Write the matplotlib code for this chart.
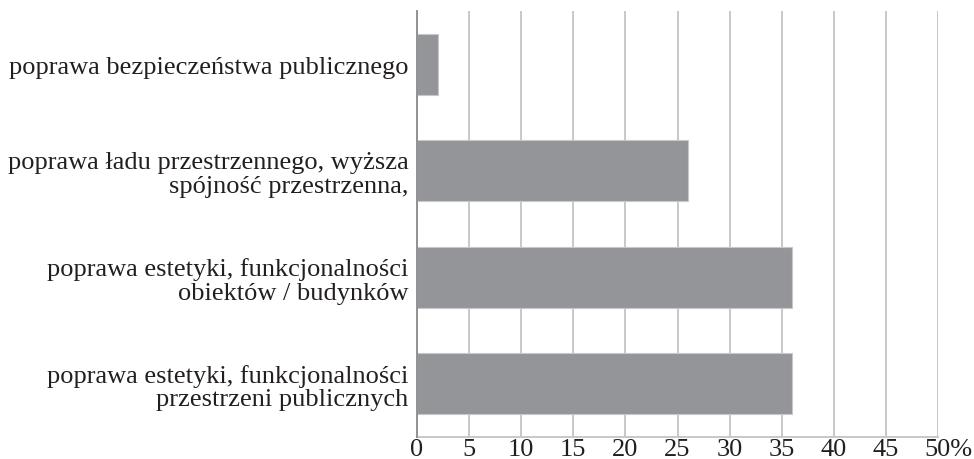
import matplotlib
matplotlib.use("Agg")
import matplotlib.pyplot as plt
from matplotlib.transforms import ScaledTranslation

categories = [
    "poprawa bezpieczeństwa publicznego",
    "poprawa ładu przestrzennego, wyższa\nspójność przestrzenna,",
    "poprawa estetyki, funkcjonalności\nobiektów / budynków",
    "poprawa estetyki, funkcjonalności\nprzestrzeni publicznych",
]
values = [2, 26, 36, 36]
ticks = [0, 5, 10, 15, 20, 25, 30, 35, 40, 45, 50]
tick_labels = ["0", "5", "10", "15", "20", "25", "30", "35", "40", "45", "50%"]

plt.rcParams['font.family'] = ['Liberation Serif', 'DejaVu Serif']

fig = plt.figure(figsize=(9.74, 4.6), dpi=100)
ax = fig.add_axes([417/974, 1 - 438/460, 521/974, (438-12)/460])

ypos = list(range(len(categories)))
ax.barh(ypos, values, height=0.57, color="#939598", edgecolor="#c8c8ca", linewidth=0.8, zorder=3)
ax.set_ylim(3.5, -0.5)
ax.set_xlim(0, 50)
ax.set_xticks(ticks)
ax.set_xticklabels(tick_labels)
ax.set_yticks(ypos)
ax.set_yticklabels(categories, linespacing=1.08)
ax.tick_params(axis='both', length=0, labelsize=19, colors="#231f20")
ax.tick_params(axis='x', pad=1)
ax.tick_params(axis='y', pad=6)
last = ax.get_xticklabels()[-1]
last.set_horizontalalignment('left')
last.set_transform(last.get_transform() + ScaledTranslation(-9.5/72, 0, fig.dpi_scale_trans))
ax.grid(axis='x', color="#c4c4c4", linewidth=1.3, zorder=0)
ax.set_axisbelow(True)
for s in ['top', 'right']:
    ax.spines[s].set_visible(False)
ax.spines['left'].set_color("#8a8a8a")
ax.spines['left'].set_linewidth(1.3)
ax.spines['bottom'].set_color("#c4c4c4")
ax.spines['bottom'].set_linewidth(1.3)
ax.spines['left'].set_zorder(4)

fig.savefig("out.png", dpi=100)
